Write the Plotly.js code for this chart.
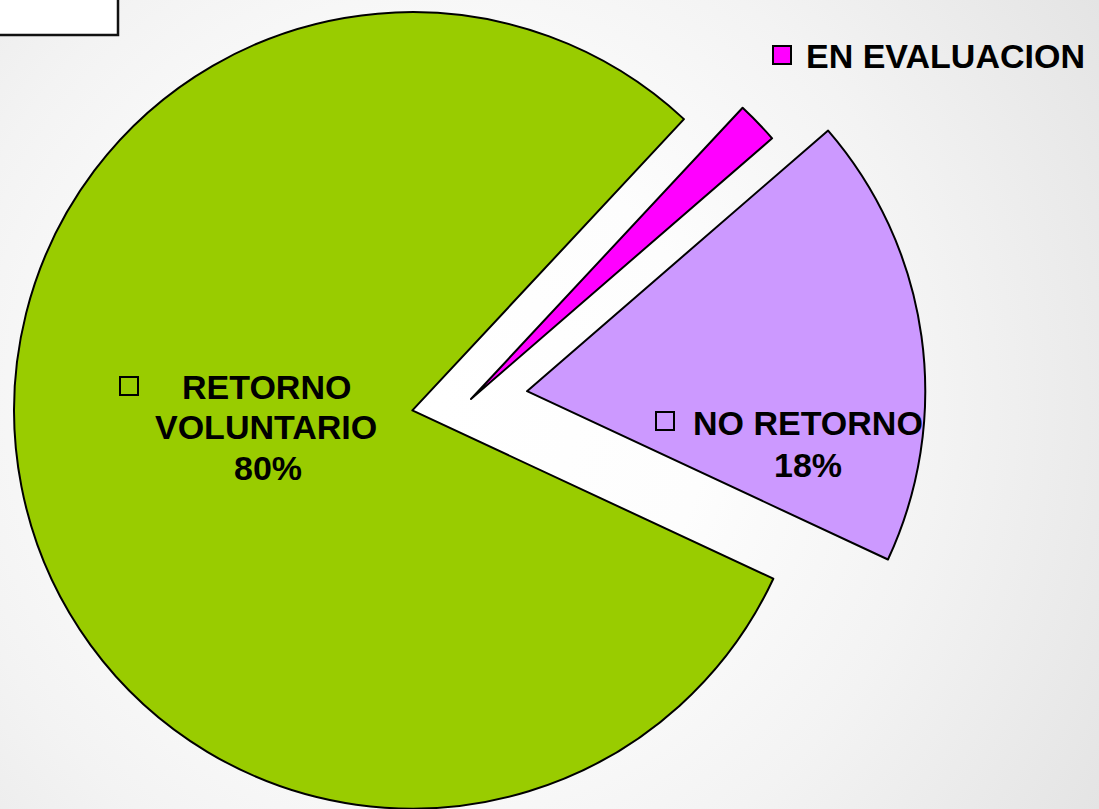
<!DOCTYPE html>
<html>
<head>
<meta charset="utf-8">
<script src="https://cdn.plot.ly/plotly-3.0.1.min.js"></script>
<style>
  html, body { margin: 0; padding: 0; width: 1099px; height: 809px; overflow: hidden;
    background: radial-gradient(circle farthest-corner at 40% 50%, #ffffff 0%, #fdfdfd 35%, #f3f3f3 65%, #e4e4e4 100%); }
  #chart { position: absolute; left: 0; top: -59px; width: 1099px; height: 916px; }
</style>
</head>
<body>
<div id="chart"></div>
<script>
// ---- data ----
const labels = ['EN EVALUACION', 'NO RETORNO', 'RETORNO VOLUNTARIO'];
const values = [1.7, 18.3, 80.0];
const colors = ['#ff00ff', '#cc99ff', '#99cc00'];
const pulls = [0, 0.142, 0.15];

// ---- layout helpers (page pixel -> paper coords) ----
const W = 1099, H = 916, TOP = -59;
const px = x => x / W;
const py = y => (H + TOP - y) / H;

const total = values.reduce((a, b) => a + b, 0);
const pct = i => Math.round(values[i] / total * 100) + '%';

const font = { family: 'Liberation Sans, Arial, sans-serif', size: 34, color: '#000000', weight: 'bold' };

const trace = {
  type: 'pie',
  labels: labels,
  values: values,
  sort: false,
  direction: 'clockwise',
  rotation: 43,
  pull: pulls,
  marker: { colors: colors, line: { color: '#000000', width: 2 } },
  textinfo: 'none',
  textposition: 'none',
  hoverinfo: 'label+percent',
  showlegend: false,
  domain: { x: [0, 942 / W], y: [0, 1] }
};

function keyBox(x, y, color) {
  return { type: 'rect', xref: 'paper', yref: 'paper',
    x0: px(x), x1: px(x + 18), y0: py(y + 18), y1: py(y),
    fillcolor: color, line: { color: '#000000', width: 2 } };
}

const shapes = [
  { type: 'rect', xref: 'paper', yref: 'paper', x0: px(-10), x1: px(118), y0: py(35), y1: py(-10),
    fillcolor: '#ffffff', line: { color: '#111111', width: 2.5 } },
  keyBox(120, 377, colors[2]),
  keyBox(656, 412, colors[1]),
  keyBox(773, 46, colors[0])
];

function line(text, x, y, anchor) {
  return { xref: 'paper', yref: 'paper', x: px(x), y: py(y), xanchor: anchor || 'center', yanchor: 'middle',
    text: text, showarrow: false, font: font };
}

const greenWords = labels[2].split(' ');
const annotations = [
  line(greenWords[0], 266, 387),
  line(greenWords[1], 266, 427),
  line(pct(2), 268, 468),
  line(labels[1], 808, 423),
  line(pct(1), 808, 465),
  line(labels[0], 804, 56, 'left')
];

const layout = {
  width: W, height: H,
  margin: { l: 0, r: 0, t: 0, b: 0 },
  paper_bgcolor: 'rgba(0,0,0,0)',
  plot_bgcolor: 'rgba(0,0,0,0)',
  showlegend: false,
  shapes: shapes,
  annotations: annotations
};

Plotly.newPlot('chart', [trace], layout, { displayModeBar: false, responsive: false });
</script>
</body>
</html>
